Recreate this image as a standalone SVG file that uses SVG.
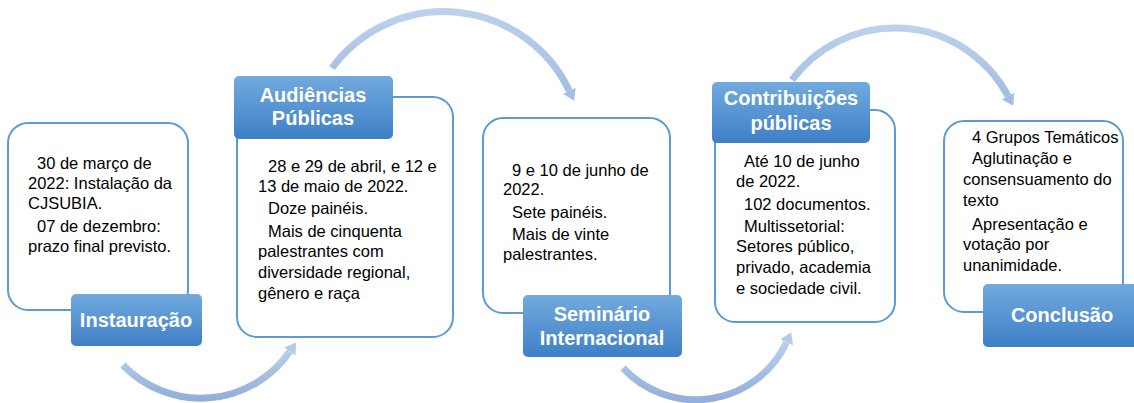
<svg xmlns="http://www.w3.org/2000/svg" width="1134" height="403" viewBox="0 0 1134 403">
<defs>
<linearGradient id="lab" x1="0" y1="0" x2="0" y2="1">
<stop offset="0" stop-color="#72aade"/>
<stop offset="1" stop-color="#3e7fc6"/>
</linearGradient>
<linearGradient id="arcTop" x1="0" y1="0" x2="0" y2="1">
<stop offset="0" stop-color="#bcd1ec"/>
<stop offset="1" stop-color="#a3bde2"/>
</linearGradient>
<linearGradient id="arcBot" x1="0" y1="0" x2="0" y2="1">
<stop offset="0" stop-color="#b9cfeb"/>
<stop offset="1" stop-color="#93b0da"/>
</linearGradient>
<marker id="headTop" markerUnits="userSpaceOnUse" markerWidth="14" markerHeight="16" refX="0" refY="8" orient="auto">
<path d="M0,1 L11,8 L0,15 Z" fill="#a4bde1"/>
</marker>
<marker id="headBot" markerUnits="userSpaceOnUse" markerWidth="14" markerHeight="16" refX="0" refY="8" orient="auto">
<path d="M0,1 L11,8 L0,15 Z" fill="#b3cbea"/>
</marker>
</defs>
<style>
.box{fill:#ffffff;stroke:#5b9bd5;stroke-width:2}
.lab{fill:url(#lab)}
.t{font-family:"Liberation Sans",Arial,sans-serif;font-size:16.5px;fill:#000}
.lt{font-family:"Liberation Sans",Arial,sans-serif;font-size:20px;font-weight:bold;fill:#ffffff;text-anchor:middle}
.arcT{fill:none;stroke:url(#arcTop);stroke-width:7;marker-end:url(#headTop)}
.arcB{fill:none;stroke:url(#arcBot);stroke-width:7;marker-end:url(#headBot)}
</style>
<g id="connectors">
<path class="arcB" d="M123,365 A108,108 0 0,0 289.8,351.5"/>
<path class="arcT" d="M332,68 A139,139 0 0,1 569.3,90.7"/>
<path class="arcB" d="M623,368 A100,100 0 0,0 786.6,342.3"/>
<path class="arcT" d="M792,80 A128,128 0 0,1 1008.1,96.1"/>
</g>
<g id="instauracao">
<rect class="box" x="8" y="123" width="180" height="187" rx="20"/>
<text class="t"><tspan x="37" y="169">30 de março de</tspan><tspan x="28" y="189">2022: Instalação da</tspan><tspan x="28" y="209">CJSUBIA.</tspan><tspan x="37" y="232">07 de dezembro:</tspan><tspan x="28" y="252">prazo final previsto.</tspan></text>
<rect class="lab" x="71" y="294" width="131" height="52" rx="5"/>
<text class="lt" x="136" y="327">Instauração</text>
</g>
<g id="audiencias">
<rect class="box" x="237" y="97" width="216" height="240" rx="20"/>
<text class="t"><tspan x="268" y="172">28 e 29 de abril, e 12 e</tspan><tspan x="258" y="192">13 de maio de 2022.</tspan><tspan x="268" y="214">Doze painéis.</tspan><tspan x="268" y="237">Mais de cinquenta</tspan><tspan x="258" y="257">palestrantes com</tspan><tspan x="258" y="278">diversidade regional,</tspan><tspan x="258" y="299">gênero e raça</tspan></text>
<rect class="lab" x="234" y="76" width="159" height="63" rx="5"/>
<text class="lt"><tspan x="313" y="102">Audiências</tspan><tspan x="313" y="125">Públicas</tspan></text>
</g>
<g id="seminario">
<rect class="box" x="483" y="118" width="187" height="195" rx="20"/>
<text class="t"><tspan x="512" y="176">9 e 10 de junho de</tspan><tspan x="503" y="195">2022.</tspan><tspan x="512" y="218">Sete painéis.</tspan><tspan x="512" y="240">Mais de vinte</tspan><tspan x="503" y="260">palestrantes.</tspan></text>
<rect class="lab" x="523" y="295" width="159" height="62" rx="5"/>
<text class="lt"><tspan x="602" y="321">Seminário</tspan><tspan x="602" y="345">Internacional</tspan></text>
</g>
<g id="contribuicoes">
<rect class="box" x="715" y="110" width="180" height="212" rx="20"/>
<text class="t"><tspan x="744" y="167">Até 10 de junho</tspan><tspan x="736" y="187">de 2022.</tspan><tspan x="744" y="210">102 documentos.</tspan><tspan x="744" y="232">Multissetorial:</tspan><tspan x="736" y="252">Setores público,</tspan><tspan x="736" y="273">privado, academia</tspan><tspan x="736" y="294">e sociedade civil.</tspan></text>
<rect class="lab" x="712" y="82" width="158" height="61" rx="5"/>
<text class="lt"><tspan x="791" y="105">Contribuições</tspan><tspan x="791" y="130">públicas</tspan></text>
</g>
<g id="conclusao">
<rect class="box" x="944" y="121" width="179" height="191" rx="20"/>
<text class="t"><tspan x="972" y="143">4 Grupos Temáticos</tspan><tspan x="972" y="164">Aglutinação e</tspan><tspan x="963" y="185">consensuamento do</tspan><tspan x="963" y="206">texto</tspan><tspan x="972" y="230">Apresentação e</tspan><tspan x="963" y="250">votação por</tspan><tspan x="963" y="271">unanimidade.</tspan></text>
<rect class="lab" x="983" y="284" width="159" height="63" rx="5"/>
<text class="lt" x="1062" y="322">Conclusão</text>
</g>
</svg>
